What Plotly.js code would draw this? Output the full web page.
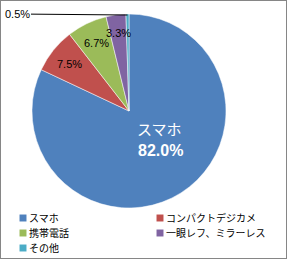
<!DOCTYPE html>
<html><head><meta charset="utf-8">
<script src="https://cdn.plot.ly/plotly-3.0.1.min.js"></script>
<style>
html,body{margin:0;padding:0;background:#fff;}
#wrap{position:relative;width:287px;height:259px;}
#chart{width:287px;height:259px;}
#frame{position:absolute;left:0;top:0;width:287px;height:259px;box-sizing:border-box;border:1px solid #868686;pointer-events:none;}
</style></head>
<body>
<div id="wrap"><div id="chart"></div><div id="frame"></div></div>
<script>
const labels = ['スマホ','コンパクトデジカメ','携帯電話','一眼レフ、ミラーレス','その他'];
const values = [82.0, 7.5, 6.7, 3.3, 0.5];
const pctText = ['82.0%','7.5%','6.7%','3.3%','0.5%'];
const colors = ['#4F81BD','#C0504D','#9BBB59','#8064A2','#4BACC6'];

const W = 287, H = 259;
const cx = 129, cy = 111, R = 97;
const px = x => x / W, py = y => 1 - y / H;

// label radius (fraction of R) for the small slices
const labelR = [null, 0.78, 0.78, 0.81, null];

const total = values.reduce((a,b)=>a+b,0);
let cum = 0;
const annotations = [];
values.forEach((v,i)=>{
  const mid = (cum + v/2) / total * 2*Math.PI; // clockwise from top
  cum += v;
  if (labelR[i] !== null) {
    const r = labelR[i]*R;
    annotations.push({x: px(cx + r*Math.sin(mid)), y: py(cy - r*Math.cos(mid)),
      xref:'paper', yref:'paper', xanchor:'center', yanchor:'middle', showarrow:false, text: pctText[i],
      font:{family:'Liberation Sans, Arial', size:11, color:'#000'}});
  }
  if (i === values.length-1) {
    const r = R;
    annotations.push({x: px(cx + r*Math.sin(mid)), y: py(cy - r*Math.cos(mid)+1),
      xref:'paper', yref:'paper', showarrow:true, arrowhead:0, arrowwidth:1, arrowcolor:'#000',
      ax: 17 - (cx + r*Math.sin(mid)), ay: 13 - (cy - r*Math.cos(mid)),
      text: pctText[i], font:{family:'Liberation Sans, Arial', size:11, color:'#000'}});
  }
});
// main slice label
annotations.push({x: px(159), y: py(128), xref:'paper', yref:'paper', xanchor:'center', yanchor:'middle', showarrow:false,
  text: labels[0], font:{family:'Noto Sans CJK JP', size:15, color:'#fff'}});
annotations.push({x: px(160), y: py(150), xref:'paper', yref:'paper', xanchor:'center', yanchor:'middle', showarrow:false,
  text: '<b>'+pctText[0]+'</b>', font:{family:'Liberation Sans, Arial', size:16, color:'#fff'}});

const trace = {
  type:'pie', labels: labels, values: values, sort:false, direction:'clockwise', rotation:0,
  marker:{colors: colors, line:{color:'#ffffff', width:0.5}},
  textinfo:'none', hoverinfo:'none',
  domain:{x:[px(cx-R), px(cx+R)], y:[py(cy+R), py(cy-R)]}
};

const layout = {
  width: W, height: H, margin:{l:0,r:0,t:0,b:0},
  paper_bgcolor:'#fff', showlegend:true,
  legend:{orientation:'h', x:0.0, xanchor:'left', y:0.0, yanchor:'bottom',
    entrywidth:92, entrywidthmode:'pixels',
    font:{family:'Noto Sans CJK JP', size:10, color:'#000'}, itemclick:false, bgcolor:'rgba(0,0,0,0)'},
  annotations: annotations
};

// legend layout in the reference (page pixels)
const legMarkX = [23, 160], legRowY = [218, 233, 248], legTextGap = 6, legMarkScale = 0.58;

Plotly.newPlot('chart', [trace], layout, {displayModeBar:false, staticPlot:true}).then(gd => {
  try {
    const items = gd.querySelectorAll('.legend .traces');
    items.forEach((g, i) => {
      const col = i % 2, row = Math.floor(i / 2);
      const pm = g.parentNode.getCTM();
      const lx = legMarkX[col] - pm.e, ly = legRowY[row] - pm.f;
      g.setAttribute('transform', `translate(${lx},${ly})`);
      g.querySelectorAll('.legendpoints path').forEach(p => {
        p.setAttribute('transform', `translate(0,0) scale(${legMarkScale})`);
        p.style.strokeWidth = '0';
      });
      const t = g.querySelector('text.legendtext');
      if (t) {
        t.setAttribute('x', legTextGap);
        t.querySelectorAll('tspan').forEach(s => { if (s.getAttribute('x')) s.setAttribute('x', legTextGap); });
      }
    });
    const clip = gd.querySelectorAll('.legend clipPath rect, defs clipPath[id*="legend"] rect');
    clip.forEach(r => { r.setAttribute('width', 400); r.setAttribute('height', 400); r.setAttribute('y', -200); r.setAttribute('x', -100); });
  } catch (e) {}
});
</script>
</body></html>
